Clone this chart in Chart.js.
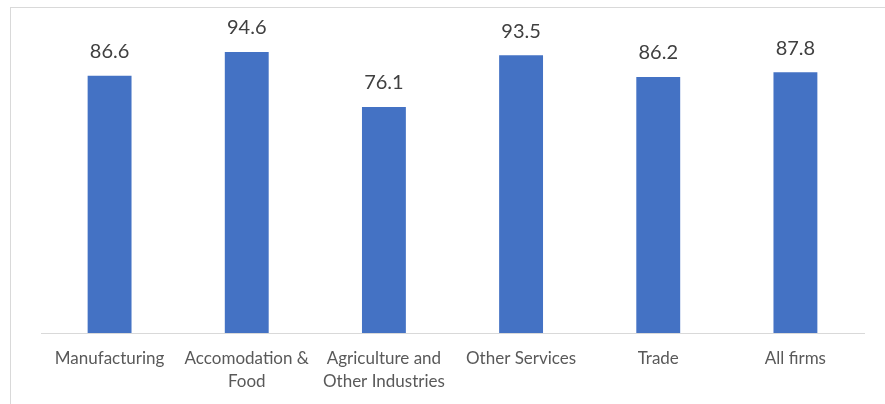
<!DOCTYPE html>
<html><head><meta charset="utf-8">
<script src="https://cdn.jsdelivr.net/npm/chart.js@4"></script>
<style>html,body{margin:0;padding:0;background:#fff;}#wrap{width:885px;height:404px;position:relative;}</style>
</head><body><div id="wrap"><canvas id="c" width="885" height="404"></canvas></div>
<script>
const categories = [["Manufacturing"], ["Accomodation &", "Food"], ["Agriculture and", "Other Industries"], ["Other Services"], ["Trade"], ["All firms"]];
const values = [86.6, 94.6, 76.1, 93.5, 86.2, 87.8];
const barColor = "#4472C4";

const framePlugin = {
  id: "frame",
  beforeDraw(chart) {
    const ctx = chart.ctx;
    ctx.save();
    ctx.strokeStyle = "#d9d9d9";
    ctx.lineWidth = 1;
    ctx.strokeRect(10.5, 7.5, 1000, 1000);
    ctx.restore();
  }
};
const labelPlugin = {
  id: "vals",
  afterDatasetsDraw(chart) {
    const ctx = chart.ctx;
    const meta = chart.getDatasetMeta(0);
    ctx.save();
    ctx.font = "20px Lato";
    ctx.fillStyle = "#404040";
    ctx.textAlign = "center";
    ctx.textBaseline = "middle";
    meta.data.forEach((bar, i) => {
      ctx.fillText(values[i].toFixed(1), bar.x, bar.y - 24);
    });
    ctx.restore();
  }
};

new Chart(document.getElementById("c"), {
  type: "bar",
  data: { labels: categories, datasets: [{ data: values, backgroundColor: barColor, barPercentage: 0.32, categoryPercentage: 1 }] },
  options: {
    responsive: false, animation: false,
    layout: { padding: { left: 41, right: 21, top: 36, bottom: 0 } },
    plugins: { legend: { display: false }, tooltip: { enabled: false } },
    scales: {
      y: { display: false, min: 0, max: 100 },
      x: {
        grid: { display: false, drawTicks: false },
        border: { display: true, color: "#d9d9d9", width: 1 },
        ticks: { color: "#595959", font: { family: "Lato", size: 17, lineHeight: 1.35 }, padding: 14, maxRotation: 0, autoSkip: false },
        afterFit(scale) { scale.height = 71; }
      }
    }
  },
  plugins: [framePlugin, labelPlugin]
});
</script></body></html>
